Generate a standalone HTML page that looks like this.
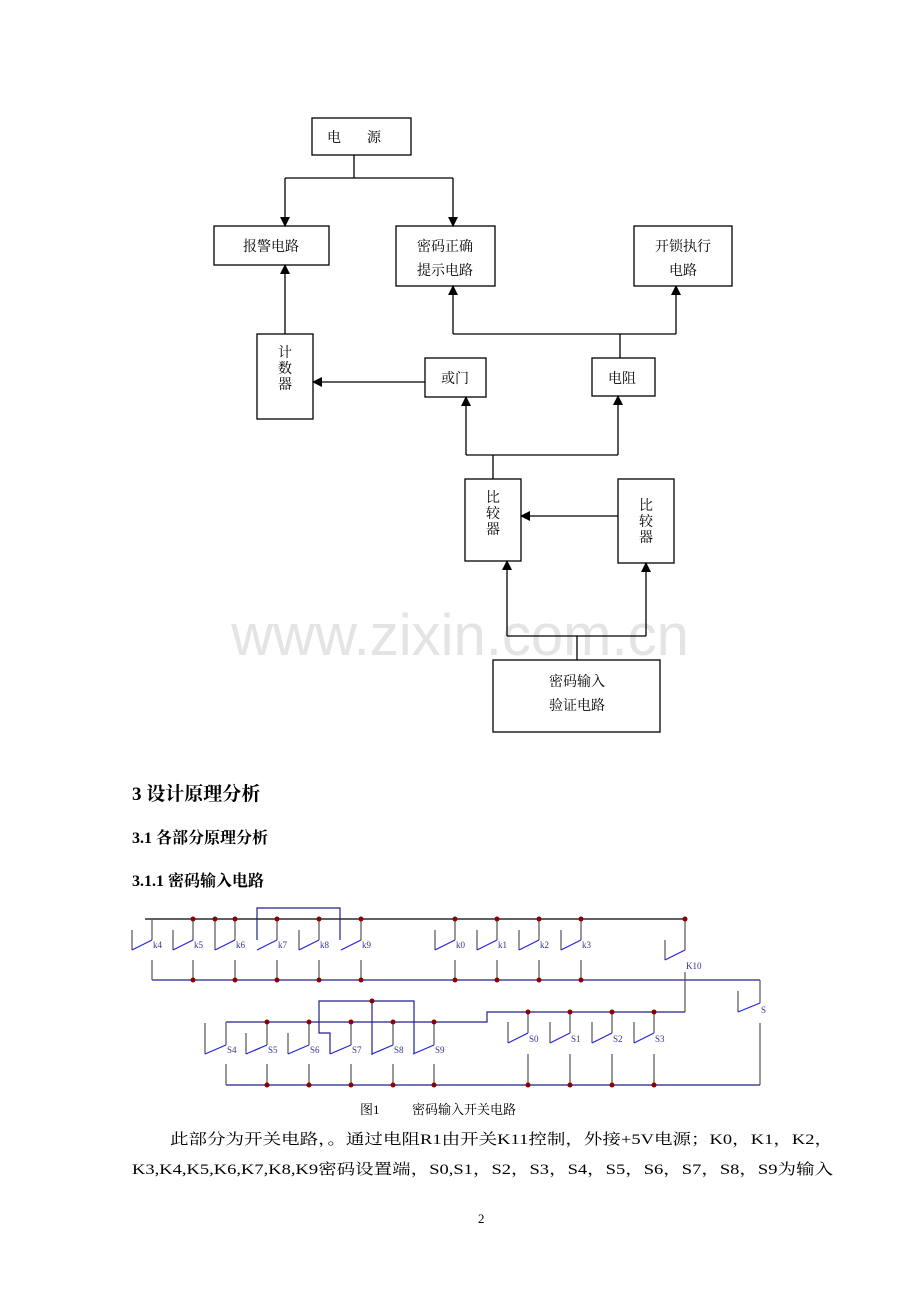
<!DOCTYPE html>
<html><head><meta charset="utf-8"><style>
html,body{margin:0;padding:0;background:#fff;}
svg{display:block;}
.t{font-family:"Liberation Serif","Noto Serif CJK SC",serif;fill:#000;}
.b{fill:none;stroke:#000;stroke-width:1.3;}
.w{stroke:#000;stroke-width:1.3;fill:none;}
.r{stroke:#222288;stroke-width:1.2;fill:none;}
.g{stroke:#555;stroke-width:1.2;fill:none;}
.s{stroke:#2222dd;stroke-width:1.2;fill:none;}
.d{fill:#8b0000;}
.l{font-family:"Liberation Serif",serif;font-size:9px;fill:#33338a;}
</style></head><body>
<svg width="920" height="1302" viewBox="0 0 920 1302" xmlns="http://www.w3.org/2000/svg">
<defs><marker id="a" markerWidth="10" markerHeight="10" refX="9" refY="5" orient="auto" markerUnits="userSpaceOnUse"><path d="M0,0 L10,5 L0,10 z" fill="#000"/></marker></defs>
<!-- watermark -->
<text x="460" y="655" text-anchor="middle" font-family="Liberation Sans,sans-serif" font-size="58" fill="#e4e4e4">www.zixin.com.cn</text>

<!-- block diagram -->
<g class="b">
<rect x="312" y="118" width="99" height="37"/>
<rect x="214" y="226" width="115" height="39"/>
<rect x="396" y="226" width="99" height="60"/>
<rect x="634" y="226" width="98" height="60"/>
<rect x="257" y="334" width="56" height="85"/>
<rect x="425" y="358" width="61" height="39"/>
<rect x="592" y="358" width="63" height="38"/>
<rect x="465" y="479" width="56" height="82"/>
<rect x="618" y="479" width="56" height="84"/>
<rect x="493" y="660" width="167" height="72"/>
</g>
<g class="w">
<polyline points="354,155 354,178"/>
<polyline points="285,178 453,178"/>
<line x1="285" y1="178" x2="285" y2="226" marker-end="url(#a)"/>
<line x1="453" y1="178" x2="453" y2="226" marker-end="url(#a)"/>
<line x1="285" y1="334" x2="285" y2="265" marker-end="url(#a)"/>
<line x1="425" y1="382" x2="313" y2="382" marker-end="url(#a)"/>
<polyline points="620,358 620,334"/>
<polyline points="453,334 676,334"/>
<line x1="453" y1="334" x2="453" y2="286" marker-end="url(#a)"/>
<line x1="676" y1="334" x2="676" y2="286" marker-end="url(#a)"/>
<polyline points="493,479 493,455"/>
<polyline points="466,455 618,455"/>
<line x1="466" y1="455" x2="466" y2="397" marker-end="url(#a)"/>
<line x1="618" y1="455" x2="618" y2="396" marker-end="url(#a)"/>
<line x1="618" y1="516" x2="521" y2="516" marker-end="url(#a)"/>
<polyline points="577,660 577,636"/>
<polyline points="507,636 646,636"/>
<line x1="507" y1="636" x2="507" y2="561" marker-end="url(#a)"/>
<line x1="646" y1="636" x2="646" y2="563" marker-end="url(#a)"/>
</g>
<g class="t" font-size="14">
<text x="327" y="142">电</text><text x="367" y="142">源</text>
<text x="271" y="251" text-anchor="middle">报警电路</text>
<text x="445" y="251" text-anchor="middle">密码正确</text>
<text x="445" y="275" text-anchor="middle">提示电路</text>
<text x="683" y="251" text-anchor="middle">开锁执行</text>
<text x="683" y="275" text-anchor="middle">电路</text>
<text x="285" y="357" text-anchor="middle">计</text>
<text x="285" y="373" text-anchor="middle">数</text>
<text x="285" y="389" text-anchor="middle">器</text>
<text x="455" y="383" text-anchor="middle">或门</text>
<text x="622" y="383" text-anchor="middle">电阻</text>
<text x="493" y="502" text-anchor="middle">比</text>
<text x="493" y="518" text-anchor="middle">较</text>
<text x="493" y="534" text-anchor="middle">器</text>
<text x="646" y="510" text-anchor="middle">比</text>
<text x="646" y="526" text-anchor="middle">较</text>
<text x="646" y="542" text-anchor="middle">器</text>
<text x="577" y="686" text-anchor="middle">密码输入</text>
<text x="577" y="710" text-anchor="middle">验证电路</text>
</g>

<!-- headings -->
<text class="t" x="132" y="800" font-size="19" font-weight="bold">3 设计原理分析</text>
<text class="t" x="132" y="843" font-size="16" font-weight="bold">3.1 各部分原理分析</text>
<text class="t" x="132" y="886" font-size="16" font-weight="bold">3.1.1 密码输入电路</text>

<!-- circuit top rows -->
<line class="w" x1="145" y1="919" x2="687" y2="919"/>
<polyline class="r" points="257,940 257,908 340,908 340,940"/>
<line class="r" x1="152" y1="980" x2="760" y2="980"/>
<g>
<!-- k switches -->
<path class="g" d="M152 919V940M132 930V950M193 919V940M173 930V950M235 919V940M215 919V950M277 919V940M319 919V940M299 930V950M361 919V940M455 919V940M435 930V950M497 919V940M477 930V950M539 919V940M519 930V950M581 919V940M561 930V950"/>
<path class="s" d="M152 940L132 950M193 940L173 950M235 940L215 950M277 940L257 950M319 940L299 950M361 940L341 950M455 940L435 950M497 940L477 950M539 940L519 950M581 940L561 950"/>
<path class="g" d="M152 960V980M193 960V980M235 960V980M277 960V980M319 960V980M361 960V980M455 960V980M497 960V980M539 960V980M581 960V980"/>
<g class="l"><text x="153" y="948">k4</text><text x="194" y="948">k5</text><text x="236" y="948">k6</text><text x="278" y="948">k7</text><text x="320" y="948">k8</text><text x="362" y="948">k9</text><text x="456" y="948">k0</text><text x="498" y="948">k1</text><text x="540" y="948">k2</text><text x="582" y="948">k3</text><text x="686" y="969">K10</text><text x="761" y="1013">S</text></g>
<!-- K10 -->
<path class="g" d="M685 919V950M665 940V960M685 972V1012M760 980V1003M738 991V1012M760 1023V1085"/>
<path class="s" d="M685 950L665 960M760 1003L738 1012"/>
</g>
<!-- S rows -->
<polyline class="r" points="226,1022 487,1022 487,1012 685,1012"/>
<polyline class="r" points="330,1054 330,1033 319,1033 319,1001 414,1001 414,1054"/>
<line class="r" x1="372" y1="1001" x2="372" y2="1055"/>
<line class="r" x1="226" y1="1085" x2="760" y2="1085"/>
<path class="g" d="M226 1022V1045M205 1023V1054M267 1022V1045M246 1033V1054M309 1022V1045M288 1033V1054M351 1022V1045M393 1022V1045M434 1022V1045M528 1012V1033M508 1022V1043M570 1012V1033M550 1022V1043M612 1012V1033M592 1022V1043M654 1012V1033M634 1022V1043"/>
<path class="s" d="M226 1045L205 1054M267 1045L246 1054M309 1045L288 1054M351 1045L330 1054M393 1045L372 1054M434 1045L413 1054M528 1033L508 1043M570 1033L550 1043M612 1033L592 1043M654 1033L634 1043"/>
<path class="g" d="M226 1064V1085M267 1064V1085M309 1064V1085M351 1064V1085M393 1064V1085M434 1064V1085M528 1054V1085M570 1054V1085M612 1054V1085M654 1054V1085"/>
<g class="l"><text x="227" y="1053">S4</text><text x="268" y="1053">S5</text><text x="310" y="1053">S6</text><text x="352" y="1053">S7</text><text x="394" y="1053">S8</text><text x="435" y="1053">S9</text><text x="529" y="1042">S0</text><text x="571" y="1042">S1</text><text x="613" y="1042">S2</text><text x="655" y="1042">S3</text></g>
<g class="d">
<circle cx="193" cy="919" r="2.5"/><circle cx="215" cy="919" r="2.5"/><circle cx="235" cy="919" r="2.5"/><circle cx="277" cy="919" r="2.5"/><circle cx="319" cy="919" r="2.5"/><circle cx="361" cy="919" r="2.5"/><circle cx="455" cy="919" r="2.5"/><circle cx="497" cy="919" r="2.5"/><circle cx="539" cy="919" r="2.5"/><circle cx="581" cy="919" r="2.5"/><circle cx="685" cy="919" r="2.5"/>
<circle cx="193" cy="980" r="2.5"/><circle cx="235" cy="980" r="2.5"/><circle cx="277" cy="980" r="2.5"/><circle cx="319" cy="980" r="2.5"/><circle cx="361" cy="980" r="2.5"/><circle cx="455" cy="980" r="2.5"/><circle cx="497" cy="980" r="2.5"/><circle cx="539" cy="980" r="2.5"/><circle cx="581" cy="980" r="2.5"/>
<circle cx="267" cy="1022" r="2.5"/><circle cx="309" cy="1022" r="2.5"/><circle cx="351" cy="1022" r="2.5"/><circle cx="393" cy="1022" r="2.5"/><circle cx="434" cy="1022" r="2.5"/><circle cx="372" cy="1001" r="2.5"/>
<circle cx="528" cy="1012" r="2.5"/><circle cx="570" cy="1012" r="2.5"/><circle cx="612" cy="1012" r="2.5"/><circle cx="654" cy="1012" r="2.5"/>
<circle cx="267" cy="1085" r="2.5"/><circle cx="309" cy="1085" r="2.5"/><circle cx="351" cy="1085" r="2.5"/><circle cx="393" cy="1085" r="2.5"/><circle cx="434" cy="1085" r="2.5"/><circle cx="528" cy="1085" r="2.5"/><circle cx="570" cy="1085" r="2.5"/><circle cx="612" cy="1085" r="2.5"/><circle cx="654" cy="1085" r="2.5"/>
</g>

<!-- caption & paragraph -->
<text class="t" x="360" y="1114" font-size="13">图1</text>
<text class="t" x="412" y="1114" font-size="13">密码输入开关电路</text>
<text class="t" x="170" y="1144" font-size="15" textLength="663" lengthAdjust="spacingAndGlyphs">此部分为开关电路，。通过电阻R1由开关K11控制，外接+5V电源；K0，K1，K2，</text>
<text class="t" x="132" y="1174" font-size="15" textLength="701" lengthAdjust="spacingAndGlyphs">K3,K4,K5,K6,K7,K8,K9密码设置端，S0,S1，S2，S3，S4，S5，S6，S7，S8，S9为输入</text>
<text class="t" x="478" y="1223" font-size="13">2</text>
</svg>
</body></html>
